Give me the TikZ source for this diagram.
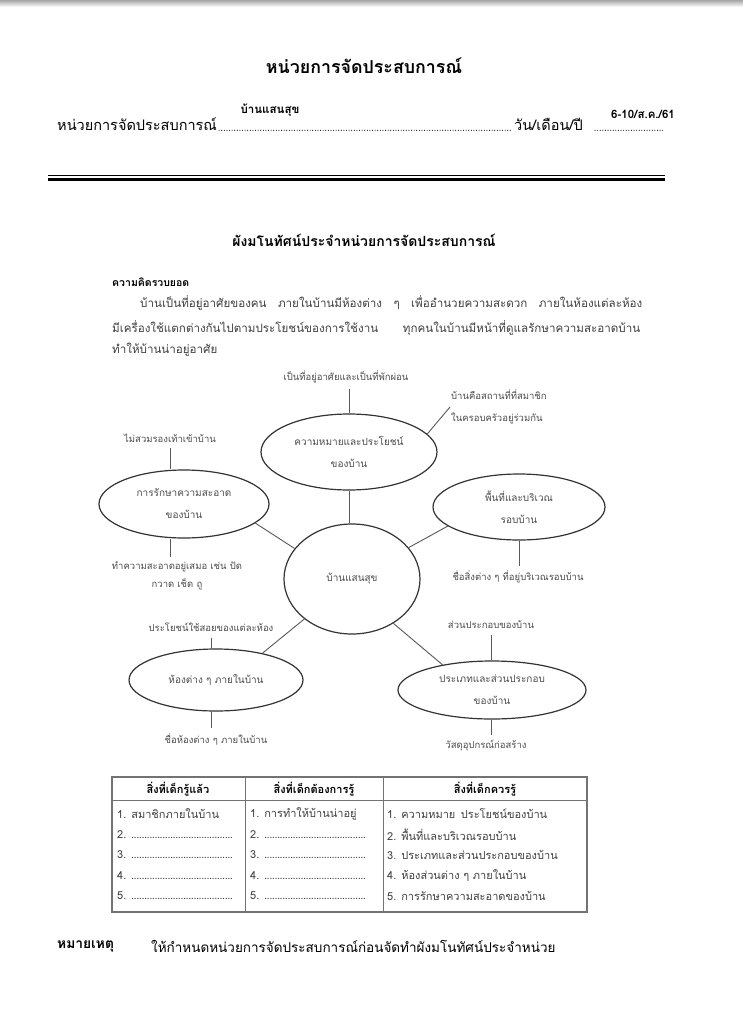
\documentclass[tikz,border=0pt]{standalone}
\usepackage{fontspec}
\setmainfont[Script=Thai]{Loma}
\usetikzlibrary{shapes.geometric}

\newcommand{\dotline}[1]{\makebox[#1]{\leaders\hbox to 2.6pt{\hss.\hss}\hfill}}

\tikzset{
  bubble/.style={draw=black!80, line width=1.2pt, ellipse, inner sep=0pt, align=center,
    text=black!70, font=\fontsize{10}{22}\selectfont},
  note/.style={text=black!70, font=\fontsize{9.5}{18}\selectfont, align=center, inner sep=1pt},
  link/.style={draw=black!65, line width=0.9pt},
  stub/.style={link, shorten <=5pt},
  dotrow/.style={line width=1.1pt, line cap=round, dash pattern=on 0pt off 2.6pt},
  cell/.style={anchor=west, text=black!75, font=\fontsize{11}{13}\selectfont, inner sep=0pt},
  head/.style={font=\bfseries\fontsize{11}{13}\selectfont, inner sep=0pt},
}

\begin{document}
\begin{tikzpicture}[x=1pt,y=-1pt]
\useasboundingbox (0,0) rectangle (743,1024);
\fill[white] (0,0) rectangle (743,1024);
\shade[top color=black!35, bottom color=white] (0,0) rectangle (743,7); % Rand oben

% Kopf
\node[font=\bfseries\fontsize{17.8}{21}\selectfont] (title) at (364,66) {หน่วยการจัดประสบการณ์};
\node[anchor=base west, inner sep=0pt, font=\fontsize{14.5}{18}\selectfont] (unitLbl) at (57,131) {หน่วยการจัดประสบการณ์};
\node[anchor=base east, inner sep=0pt, font=\fontsize{14.5}{18}\selectfont] (dateLbl) at (583,131) {วัน/เดือน/ปี};
\coordinate (dateEnd) at (663,131);
\draw[dotrow] ([xshift=2pt,yshift=0.7pt]unitLbl.base east) -- ([xshift=-2pt,yshift=0.7pt]dateLbl.base west);
\draw[dotrow] ([xshift=12pt,yshift=0.7pt]dateLbl.base east) -- ([yshift=0.7pt]dateEnd);
\node[font=\bfseries\fontsize{11.5}{14}\selectfont] (unitName) at (270,110) {บ้านแสนสุข};
\node[font=\bfseries\fontsize{11.5}{14}\selectfont] (unitDate) at (643,114) {6-10/ส.ค./61};
\draw[line width=1.3pt] (48,175.5) -- (665,175.5); % duenner Strich
\draw[line width=3pt] (48,180) -- (665,180); % dicker Strich

% Ueberschrift + Text
\node[font=\bfseries\fontsize{14}{17}\selectfont] (mapTitle) at (364,240) {ผังมโนทัศน์ประจำหน่วยการจัดประสบการณ์};
\node[anchor=west, inner sep=0pt, font=\bfseries\fontsize{10.5}{12}\selectfont] (ideaHead) at (112,282) {ความคิดรวบยอด};
\node[cell, font=\fontsize{11.6}{14}\selectfont] (idea1) at (140,303) {\makebox[502pt][s]{บ้านเป็นที่อยู่อาศัยของคน ภายในบ้านมีห้องต่าง ๆ เพื่ออำนวยความสะดวก ภายในห้องแต่ละห้อง}};
\node[cell, font=\fontsize{11.6}{14}\selectfont] (idea2) at (112,328) {\makebox[528pt][s]{มีเครื่องใช้แตกต่างกันไปตามประโยชน์ของการใช้งาน ทุกคนในบ้านมีหน้าที่ดูแลรักษาความสะอาดบ้าน}};
\node[cell, font=\fontsize{11.6}{14}\selectfont] (idea3) at (112,350) {ทำให้บ้านน่าอยู่อาศัย};

% Ellipsen
\node[bubble, minimum width=176, minimum height=76] (meaning) at (349,452) {ความหมายและประโยชน์\\ของบ้าน};
\node[bubble, minimum width=136, minimum height=110] (home) at (352,579) {บ้านแสนสุข};
\node[bubble, minimum width=170, minimum height=68] (care) at (184,504) {การรักษาความสะอาด\\ของบ้าน};
\node[bubble, minimum width=172, minimum height=66] (area) at (519,507) {พื้นที่และบริเวณ\\รอบบ้าน};
\node[bubble, minimum width=174, minimum height=62] (rooms) at (216,680) {ห้องต่าง ๆ ภายในบ้าน};
\node[bubble, minimum width=188, minimum height=58] (kinds) at (492,690) {ประเภทและส่วนประกอบ\\ของบ้าน};

% Stichworte
\node[note] (meaningUp) at (346,377) {เป็นที่อยู่อาศัยและเป็นที่พักผ่อน};
\node[note, anchor=west, align=left, font=\fontsize{9.5}{22}\selectfont] (family) at (450,407) {บ้านคือสถานที่ที่สมาชิก\\ในครอบครัวอยู่ร่วมกัน};
\node[note] (careUp) at (170,438) {ไม่สวมรองเท้าเข้าบ้าน};
\node[note] (careDown) at (177,576) {ทำความสะอาดอยู่เสมอ เช่น ปัด\\กวาด เช็ด ถู};
\node[note] (areaDown) at (518,577) {ชื่อสิ่งต่าง ๆ ที่อยู่บริเวณรอบบ้าน};
\node[note] (roomsUp) at (211,627) {ประโยชน์ใช้สอยของแต่ละห้อง};
\node[note] (roomsDown) at (216,739) {ชื่อห้องต่าง ๆ ภายในบ้าน};
\node[note] (kindsUp) at (491,625) {ส่วนประกอบของบ้าน};
\node[note] (kindsDown) at (486,746) {วัสดุอุปกรณ์ก่อสร้าง};

% Verbindungen
\draw[link] (meaning.south) -- (meaning.south |- home.north);
\draw[link] (care.-15) -- (home.152);
\draw[link] (area.195) -- (home.29);
\draw[link] (rooms.30) -- (home.220);
\draw[link] (home.-47) -- (kinds.153);
\draw[link] (meaning.13) -- (family.west);
\draw[stub] (meaningUp.south -| meaning.north) -- (meaning.north);
\draw[stub] (careUp.south) -- (careUp.south |- care.north);
\draw[link] (careUp.south |- care.south) -- ([yshift=4pt]careUp.south |- careDown.north);
\draw[link] (area.south) -- ([yshift=4pt]area.south |- areaDown.north);
\draw[stub] (roomsUp.south) -- (roomsUp.south |- rooms.north);
\draw[link] (roomsUp.south |- rooms.south) -- ([yshift=4pt]roomsUp.south |- roomsDown.north);
\draw[stub] (kindsUp.south) -- (kindsUp.south |- kinds.north);
\draw[link] (kindsUp.south |- kinds.south) -- ([yshift=4pt]kindsUp.south |- kindsDown.north);

% Tabelle
\draw[black!55, line width=1.2pt] (112,777) rectangle (587,912);
\draw[black!55] (112,800) -- (587,800);
\draw[black!55] (245,777) -- (245,912);
\draw[black!55] (383,777) -- (383,912);
\node[head] (knowHead) at (178,789) {สิ่งที่เด็กรู้แล้ว};
\node[head] (wantHead) at (314,789) {สิ่งที่เด็กต้องการรู้};
\node[head] (shouldHead) at (485,789) {สิ่งที่เด็กควรรู้};
\node[cell] (know1) at (117,814) {1. สมาชิกภายในบ้าน};
\node[cell] (want1) at (250,814) {1. การทำให้บ้านน่าอยู่};
\foreach \i/\y in {2/835,3/855,4/876,5/896} {
  \node[cell] (know\i) at (117,\y) {\i. \dotline{104pt}};
  \node[cell] (want\i) at (250,\y) {\i. \dotline{104pt}};
}
\node[cell] (should1) at (387,814) {1. ความหมาย\enspace ประโยชน์ของบ้าน};
\node[cell] (should2) at (387,835) {2. พื้นที่และบริเวณรอบบ้าน};
\node[cell] (should3) at (387,855) {3. ประเภทและส่วนประกอบของบ้าน};
\node[cell] (should4) at (387,876) {4. ห้องส่วนต่าง ๆ ภายในบ้าน};
\node[cell] (should5) at (387,896) {5. การรักษาความสะอาดของบ้าน};

% Fuss
\node[anchor=west, inner sep=0pt, font=\bfseries\fontsize{13.8}{16}\selectfont] (remark) at (57,946) {หมายเหตุ};
\node[anchor=west, inner sep=0pt, font=\fontsize{13.5}{16}\selectfont] (remarkText) at (151,946) {ให้กำหนดหน่วยการจัดประสบการณ์ก่อนจัดทำผังมโนทัศน์ประจำหน่วย};
\end{tikzpicture}
\end{document}
